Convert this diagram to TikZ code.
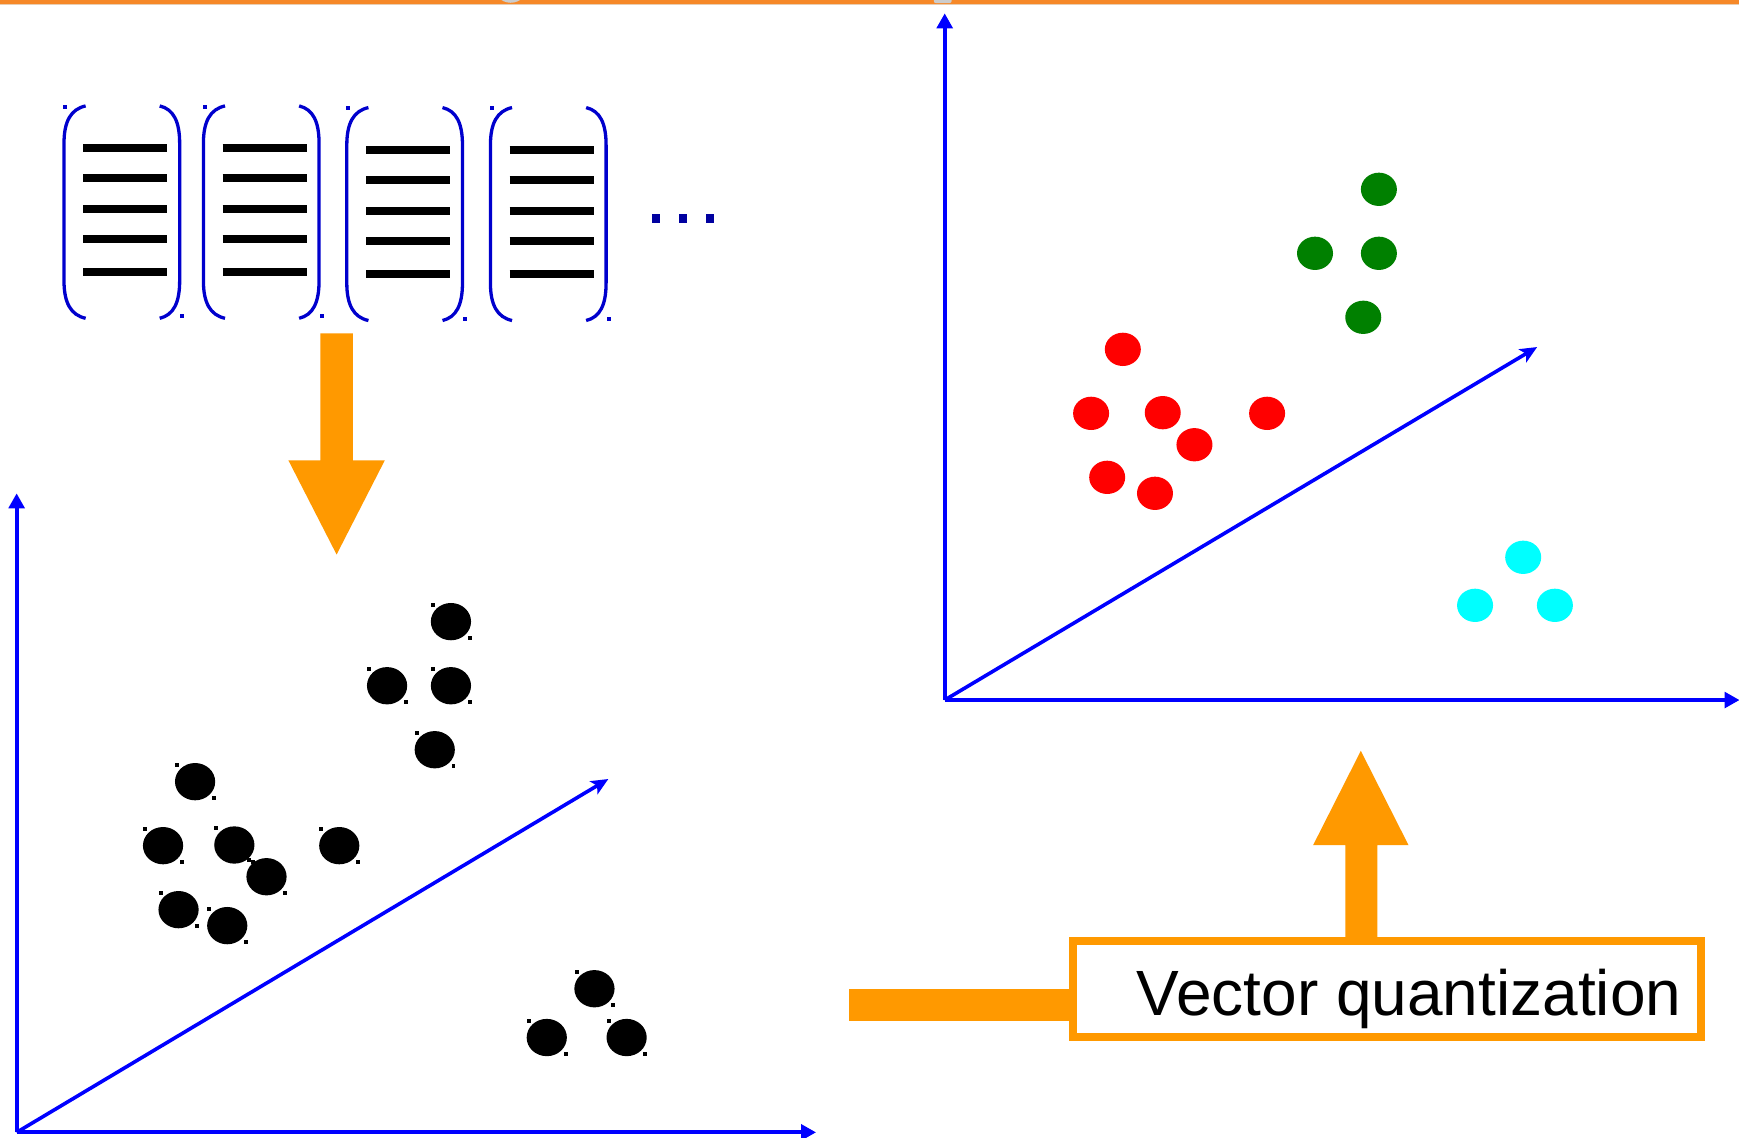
\documentclass[tikz,border=0pt]{standalone}
\usepackage{fontspec}
\setmainfont{Liberation Sans}
\usetikzlibrary{arrows.meta,shapes.geometric}

\definecolor{axisblue}{RGB}{0,0,255}
\definecolor{bracketblue}{RGB}{0,0,205}
\definecolor{dotnavy}{RGB}{0,0,160}
\definecolor{flowor}{RGB}{255,153,0}
\definecolor{bandor}{RGB}{246,136,40}
\definecolor{bandtan}{RGB}{232,205,178}
\definecolor{ptgreen}{RGB}{0,128,0}
\definecolor{ptred}{RGB}{255,0,0}
\definecolor{ptcyan}{RGB}{0,255,255}

\begin{document}
\begin{tikzpicture}[x=1.10906pt,y=-1.10906pt,
  axis/.style={draw=axisblue,line width=4pt,-{Triangle[length=15pt,width=15.6pt]}},
  diag/.style={draw=axisblue,line width=3.6pt,-{Stealth[length=17pt,width=15pt,inset=4pt]}},
  paren/.style={draw=bracketblue,line width=3.3pt},
  rowbar/.style={draw=black,line width=8pt},
  kdot/.style={ellipse,fill=black,inner sep=0pt,minimum width=40.2pt,minimum height=37.3pt},
  cdot/.style={ellipse,fill=#1,inner sep=0pt,minimum width=36pt,minimum height=33.3pt},
  vqbox/.style={draw=flowor,line width=8pt,fill=white,inner sep=0pt,
                minimum width=627.5pt,minimum height=96.3pt},
]
% canvas
\fill[white] (0,0) rectangle (1568,1026);
\useasboundingbox (0,0) rectangle (1568,1026);

% top band
\fill[bandor] (0,0) rectangle (1568,3.6);
\fill[bandtan] (0,3.6) rectangle (1568,4.8);
\fill[gray!40] (460.5,-14) ellipse [x radius=17.7pt, y radius=18.3pt];
\fill[gray!40,rounded corners=2pt] (842,-6) -- (842,2.8) -- (858,2.8) -- (858,-6) -- cycle;

% column vectors in brackets
\foreach \L/\R/\T/\B/\dy in {57.7/162/95.5/287/0, 183.4/287.7/95.5/287/0,
                              312.7/417/97/289/1.8, 442.2/546.5/97/289/1.8}{
  \draw[paren] (\L+19.5,\T) .. controls (\L+6,\T+3) and (\L,\T+14) .. (\L,\T+34)
     -- (\L,\B-34) .. controls (\L,\B-14) and (\L+6,\B-3) .. (\L+19.5,\B);
  \draw[paren] (\R-18,\T) .. controls (\R-5.5,\T+3) and (\R,\T+14) .. (\R,\T+34)
     -- (\R,\B-34) .. controls (\R,\B-14) and (\R-5.5,\B-3) .. (\R-18,\B);
  \fill[bracketblue] (\L-0.6,\T-1.1) rectangle ++(3.6,3.6);
  \fill[bracketblue] (\R+0.5,\B-3.6) rectangle ++(3.6,3.6);
  \foreach \y in {133.7,160.9,188.3,215.8,245.5}
    \draw[rowbar] (\L+17.4,\y+\dy) -- (\L+93,\y+\dy);
}
% continuation dots
\foreach \x in {587.5,612,636.6}
  \fill[dotnavy] (\x,193) rectangle ++(7.6,8.4);

% downward block arrow
\coordinate (dA) at (303.5,300.6);
\coordinate (dB) at (303.5,500);
\fill[flowor] (dA) ++(-14.7,0) -- ++(29.4,0) -- (318.2,415) -- (347,415)
  -- (dB) -- (260,415) -- (288.8,415) -- cycle;

% left plot
\coordinate (lo) at (15,1021);
\coordinate (ly) at (15,444.8);
\coordinate (lx) at (735.8,1021);
\coordinate (ld) at (548.5,702.4);
\draw[axis] (lo) -- (ly);
\draw[axis] (lo) -- (lx);
\draw[diag] (lo) -- (ld);

\foreach \n/\x/\y in {k1/406.6/560.5, k2/349/618.3, k3/406.6/618.3, k4/392/676,
    k5/175.9/704.8, k6/147/762.5, k7/211.3/761.9, k8/240.3/790.5, k9/305.9/762.5,
    k10/161/820.2, k11/204.9/834.6, k12/536/891.5, k13/493/935.5, k14/565/935.5}{
  \node[kdot] (\n) at (\x,\y) {};
  \fill ([shift={(-17.9,-16.8)}]\n.center) rectangle ++(3.6,3.6);
  \fill ([shift={(15.1,13.2)}]\n.center) rectangle ++(3.6,3.6);
}

% right plot
\coordinate (ro) at (851.8,631.2);
\coordinate (ry) at (851.8,12);
\coordinate (rx) at (1568.5,631.2);
\coordinate (rd) at (1386,312.9);
\draw[axis] (ro) -- (ry);
\draw[axis] (ro) -- (rx);
\draw[diag] (ro) -- (rd);

\foreach \n/\x/\y in {g1/1243.3/170.7, g2/1185.7/228.4, g3/1243.3/228.4, g4/1229.2/286.1}
  \node[cdot=ptgreen] (\n) at (\x,\y) {};
\foreach \n/\x/\y in {r1/1012.4/315, r2/983.8/372.7, r3/1048.4/372.1, r4/1077/401,
    r5/1142.5/372.7, r6/998.3/430.4, r7/1041.4/444.8}
  \node[cdot=ptred] (\n) at (\x,\y) {};
\foreach \n/\x/\y in {c1/1373.4/502.5, c2/1330/545.8, c3/1402/545.8}
  \node[cdot=ptcyan] (\n) at (\x,\y) {};

% feed bar into the quantizer box
\coordinate (feed) at (765.7,906.1);
\node[vqbox] (vq) at (1250.5,892) {};
\draw[flowor,line width=31.7pt] (feed) -- (feed -| vq.west);
\node[vqbox] at (vq.center) {};
\node[anchor=base west,inner sep=0pt,font=\fontsize{64}{70}\selectfont] (vqtext)
  at (1025,916) {Vector quantization};

% upward block arrow out of the box
\coordinate (uA) at (1227.5,845);
\coordinate (uB) at (1227,677);
\fill[flowor] (uA) ++(-14.5,0) -- ++(29,0) -- (1242,762) -- (1270,762)
  -- (uB) -- (1184,762) -- (1213,762) -- cycle;
\end{tikzpicture}
\end{document}
